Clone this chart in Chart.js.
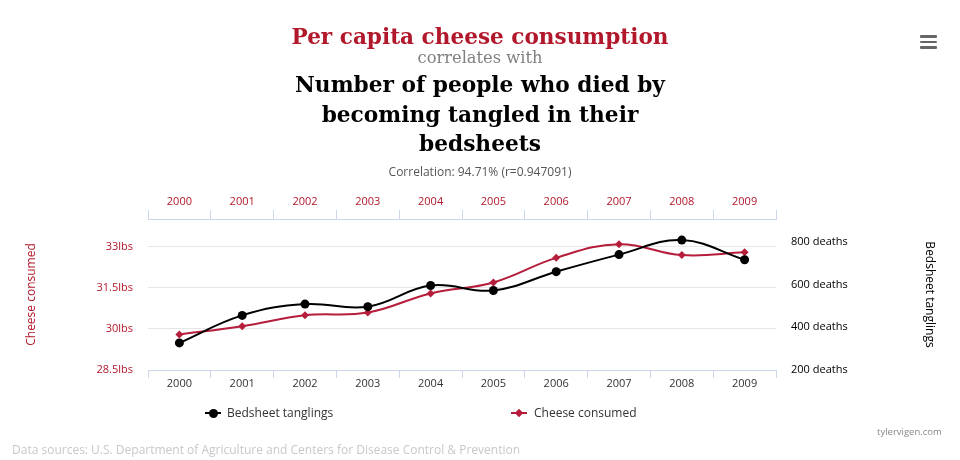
<!DOCTYPE html>
<html><head><meta charset="utf-8">
<script src="https://cdn.jsdelivr.net/npm/chart.js@4.4.1/dist/chart.umd.min.js"></script>
<style>
html,body{margin:0;padding:0;background:#fff;}
#wrap{position:relative;width:960px;height:460px;overflow:hidden;font-family:'Open Sans',sans-serif;}
#c{position:absolute;left:0;top:0;}
.t{position:absolute;left:0;width:960px;text-align:center;white-space:nowrap;}
.t span{display:inline-block;}
#t1{top:26px;font-family:'DejaVu Serif',serif;font-weight:bold;color:#b2182b;line-height:1;}
#t2{top:50px;font-family:'DejaVu Serif',serif;color:#808080;line-height:1;}
#t3{top:70px;font-family:'DejaVu Serif',serif;font-weight:bold;color:#000;line-height:29.5px;}
#corr{top:163px;font-size:12px;color:#555;}
#menu{position:absolute;left:920px;top:35px;width:17px;}
#menu div{height:2.5px;background:#666;margin-bottom:3px;border-radius:1px;}
.lg{position:absolute;top:405px;font-size:12px;color:#333;white-space:nowrap;line-height:16px;}
.sym{position:absolute;left:0;top:7px;width:16px;height:2px;}
.dot{position:absolute;left:4px;top:-3.5px;width:9px;height:9px;border-radius:50%;background:#000;}
.dia{position:absolute;left:5px;top:-2.5px;width:6px;height:6px;transform:rotate(45deg);background:#b51d3b;}
#src{position:absolute;left:12px;top:441px;font-size:12px;color:#c8c8c8;white-space:nowrap;}
#site{position:absolute;left:877px;top:425px;font-size:9.5px;color:#888;white-space:nowrap;}
</style></head>
<body><div id="wrap">
<canvas id="c" width="960" height="460"></canvas>
<div class="t" id="t1"><span data-w="377">Per capita cheese consumption</span></div>
<div class="t" id="t2"><span data-w="125">correlates with</span></div>
<div class="t" id="t3"><span data-w="370">Number of people who died by</span><br><span>becoming tangled in their</span><br><span>bedsheets</span></div>
<div class="t" id="corr">Correlation: 94.71% (r=0.947091)</div>
<div id="menu"><div></div><div></div><div></div></div>
<div class="lg" id="lg1" style="left:205px;"><div class="sym" style="background:#000;"><div class="dot"></div></div><span style="margin-left:22px;" id="lt1"></span></div>
<div class="lg" id="lg2" style="left:511px;"><div class="sym" style="background:#b51d3b;"><div class="dia"></div></div><span style="margin-left:23px;" id="lt2"></span></div>
<div id="site">tylervigen.com</div>
<div id="src">Data sources: U.S. Department of Agriculture and Centers for Disease Control &amp; Prevention</div>
</div>
<script>
// ---- data ----
const years = ['2000','2001','2002','2003','2004','2005','2006','2007','2008','2009'];
const cheeseLbs = [29.8, 30.1, 30.5, 30.6, 31.3, 31.7, 32.6, 33.1, 32.7, 32.8];
const bedsheetDeaths = [327, 456, 509, 497, 596, 573, 661, 741, 809, 717];
const cheeseTicks = [28.5, 30, 31.5, 33];
const deathTicks = [200, 400, 600, 800];
const seriesNames = ['Bedsheet tanglings', 'Cheese consumed'];

const RED = '#b2182b';
const LINE_RED = '#b51d3b';

// fit serif title widths
function fitTitle(id, base) {
  const el = document.getElementById(id);
  el.style.fontSize = base + 'px';
  const sp = el.querySelector('span[data-w]');
  const w = sp.getBoundingClientRect().width;
  const target = +sp.dataset.w;
  el.style.fontSize = (base * target / w).toFixed(2) + 'px';
}
fitTitle('t1', 26);
fitTitle('t2', 18);
fitTitle('t3', 24);

document.getElementById('lt1').textContent = seriesNames[0];
document.getElementById('lt2').textContent = seriesNames[1];

const tickFont = {family: "'Open Sans', sans-serif", size: 11, lineHeight: 1};
const fixTicks = arr => axis => { axis.ticks = arr.map(v => ({value: v})); };

new Chart(document.getElementById('c'), {
  type: 'line',
  data: {
    labels: years,
    datasets: [
      {
        label: seriesNames[0], data: bedsheetDeaths, yAxisID: 'yR', xAxisID: 'x',
        borderColor: '#000', backgroundColor: '#000', borderWidth: 2,
        pointRadius: 4.5, pointBorderWidth: 0, pointBackgroundColor: '#000',
        tension: 0.4, fill: false
      },
      {
        label: seriesNames[1], data: cheeseLbs, yAxisID: 'yL', xAxisID: 'x',
        borderColor: LINE_RED, backgroundColor: LINE_RED, borderWidth: 2,
        pointStyle: 'rectRot', pointRadius: 4, pointBorderWidth: 0, pointBackgroundColor: LINE_RED,
        tension: 0.4, fill: false
      }
    ]
  },
  options: {
    responsive: false,
    animation: false,
    devicePixelRatio: 1,
    layout: {padding: {top: 180, bottom: 60, left: 0, right: 0}},
    plugins: {legend: {display: false}, tooltip: {enabled: false}, title: {display: false}},
    scales: {
      x: {
        type: 'category', position: 'bottom', offset: true,
        grid: {offset: true, drawOnChartArea: false, drawTicks: true, tickLength: 8, color: '#ccd6eb'},
        border: {display: true, color: '#ccd6eb'},
        ticks: {color: '#333', font: tickFont, padding: 0, maxRotation: 0, autoSkip: false},
        afterFit: s => { s.height = 30; }
      },
      x2: {
        type: 'category', position: 'top', offset: true, labels: years,
        grid: {offset: true, drawOnChartArea: false, drawTicks: true, tickLength: 9, color: '#ccd6eb'},
        border: {display: true, color: '#ccd6eb'},
        ticks: {color: RED, font: tickFont, padding: 3, maxRotation: 0, autoSkip: false},
        afterFit: s => { s.height = 39; }
      },
      yL: {
        type: 'linear', position: 'left', min: 28.5, max: 34.02,
        afterBuildTicks: fixTicks(cheeseTicks),
        grid: {color: '#e6e6e6', drawTicks: false},
        border: {display: false},
        ticks: {color: RED, font: tickFont, padding: 15, callback: v => v + 'lbs'},
        title: {display: true, text: seriesNames[1], color: RED,
                font: {family: "'Open Sans', sans-serif", size: 12}, padding: {top: 24, bottom: 0}},
        afterFit: s => { s.width = 148; }
      },
      yR: {
        type: 'linear', position: 'right', min: 200, max: 908,
        afterBuildTicks: fixTicks(deathTicks),
        grid: {drawOnChartArea: false, drawTicks: false},
        border: {display: false},
        ticks: {color: '#000', font: tickFont, padding: 15, callback: v => v + ' deaths'},
        title: {display: true, text: seriesNames[0], color: '#000',
                font: {family: "'Open Sans', sans-serif", size: 12}, padding: {top: 23, bottom: 0}},
        afterFit: s => { s.width = 184; }
      }
    }
  }
});
</script>
</body></html>
